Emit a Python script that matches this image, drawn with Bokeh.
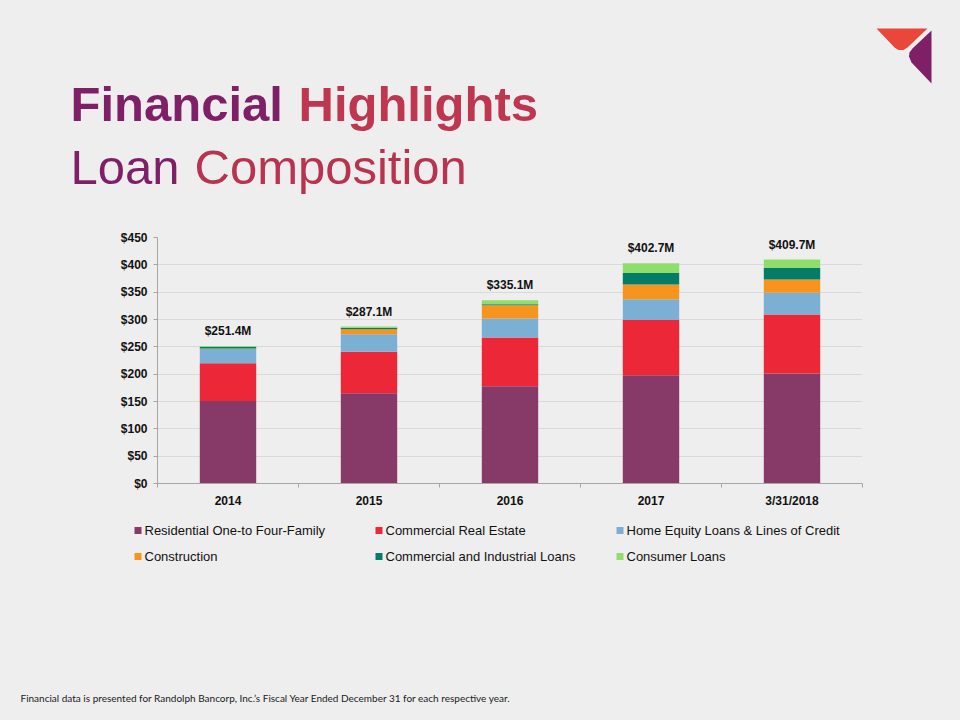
from bokeh.plotting import figure
from bokeh.models import (Range1d, FixedTicker, ColumnDataSource)
from bokeh.layouts import column, row
from bokeh.embed import file_html
from bokeh.resources import INLINE
from bokeh.core.properties import value

# ---------------- data ----------------
categories = ["2014", "2015", "2016", "2017", "3/31/2018"]
series_names = ["Residential One-to Four-Family", "Commercial Real Estate",
                "Home Equity Loans & Lines of Credit", "Construction",
                "Commercial and Industrial Loans", "Consumer Loans"]
residential = [151.0, 165.0, 178.0, 198.0, 201.0]
commercial_re = [69.0, 76.0, 89.0, 101.0, 108.0]
home_equity = [26.0, 32.0, 35.0, 38.0, 40.0]
construction = [1.0, 9.0, 24.0, 27.0, 24.0]
commercial_ind = [2.5, 3.0, 2.0, 21.0, 21.0]
consumer = [1.9, 2.1, 7.1, 17.7, 15.7]
totals = [251.4, 287.1, 335.1, 402.7, 409.7]
total_labels = ["$251.4M", "$287.1M", "$335.1M", "$402.7M", "$409.7M"]
y_ticks = [0, 50, 100, 150, 200, 250, 300, 350, 400, 450]
y_tick_labels = ["$0", "$50", "$100", "$150", "$200", "$250", "$300", "$350", "$400", "$450"]
series_colors = ["#873A67", "#EC2737", "#7BAFD4", "#F7941E", "#037D67", "#8FDD6B"]

BG = "#EEEEEE"
FONT = "Liberation Sans"
W = 960

# ---------------- header ----------------
hdr = figure(width=W, height=208, x_range=Range1d(0, W), y_range=Range1d(208, 0),
             x_axis_type=None, y_axis_type=None, toolbar_location=None,
             output_backend="svg", min_border=0, outline_line_color=None,
             background_fill_color=BG, border_fill_color=BG)
hdr.text(x=[70], y=[103], text=["Financial"], text_font=value(FONT), text_font_style="bold",
         text_font_size="49px", text_color="#7E1F67", text_baseline="alphabetic")
hdr.text(x=[298], y=[103], text=["Highlights"], text_font=value(FONT), text_font_style="bold",
         text_font_size="49px", text_color="#BE3650", text_baseline="alphabetic")
hdr.text(x=[70], y=[166], text=["Loan"], text_font=value(FONT),
         text_font_size="49px", text_color="#7E1F67", text_baseline="alphabetic")
hdr.text(x=[194], y=[166], text=["Composition"], text_font=value(FONT),
         text_font_size="49px", text_color="#B8334F", text_baseline="alphabetic")
# logo
hdr.patch(x=[876, 927, 907, 903, 898, 894], y=[28, 28, 47, 49.5, 49.5, 47],
          fill_color="#E8473A", line_color=None)
hdr.patch(x=[931, 931, 911, 908.5, 909, 912], y=[30, 83, 62, 56, 52, 48],
          fill_color="#7F1F66", line_color=None)

# ---------------- chart ----------------
xs = [i + 0.5 for i in range(len(categories))]
keys = ["residential", "commercial_re", "home_equity", "construction", "commercial_ind", "consumer"]
source = ColumnDataSource(dict(x=xs, residential=residential, commercial_re=commercial_re,
                               home_equity=home_equity, construction=construction,
                               commercial_ind=commercial_ind, consumer=consumer,
                               total=totals, label=total_labels))

p = figure(width=W, height=302, x_range=Range1d(0, len(categories)), y_range=Range1d(0, 450),
           toolbar_location=None, output_backend="svg",
           min_border_left=157, min_border_right=98, min_border_top=29, min_border_bottom=27,
           background_fill_color=BG, border_fill_color=BG, outline_line_color=None)

rs = p.vbar_stack(keys, x="x", width=0.4, fill_color=series_colors, line_color=None, source=source)

p.text(x="x", y="total", text="label", source=source, text_align="center",
       text_baseline="bottom", y_offset=-8, text_font=value(FONT), text_font_style="bold",
       text_font_size="12px", text_color="#111111")

p.xgrid.visible = False
p.ygrid.grid_line_color = "#D9D9D9"
p.ygrid.ticker = FixedTicker(ticks=y_ticks)

ya = p.yaxis[0]
ya.ticker = FixedTicker(ticks=y_ticks)
ya.major_label_overrides = {t: l for t, l in zip(y_ticks, y_tick_labels)}
ya.axis_line_color = "#A6A6A6"
ya.major_tick_line_color = "#A6A6A6"
ya.major_tick_out = 4
ya.major_tick_in = 0
ya.minor_tick_line_color = None
ya.major_label_standoff = 6
ya.major_label_text_font = FONT
ya.major_label_text_font_style = "bold"
ya.major_label_text_font_size = "12px"
ya.major_label_text_color = "#111111"

xa = p.xaxis[0]
xa.ticker = FixedTicker(ticks=xs, minor_ticks=list(range(len(categories) + 1)))
xa.major_label_overrides = {x: c for x, c in zip(xs, categories)}
xa.axis_line_color = "#A6A6A6"
xa.major_tick_line_color = None
xa.major_tick_out = 0
xa.major_tick_in = 0
xa.minor_tick_line_color = "#A6A6A6"
xa.minor_tick_out = 4
xa.minor_tick_in = 0
xa.major_label_standoff = 6
xa.major_label_text_font = FONT
xa.major_label_text_font_style = "bold"
xa.major_label_text_font_size = "12px"
xa.major_label_text_color = "#111111"

# ---------------- legend + footer ----------------
ftr = figure(width=W, height=210, x_range=Range1d(0, W), y_range=Range1d(720, 510),
             x_axis_type=None, y_axis_type=None, toolbar_location=None,
             output_backend="svg", min_border=0, outline_line_color=None,
             background_fill_color=BG, border_fill_color=BG)

# legend laid out as 3 columns x 2 rows, in the series order
LEG_LEFT, LEG_COL, LEG_TOP, LEG_ROW = 137.5, 241, 530, 26
n_cols = 3
leg_x = [LEG_LEFT + (i % n_cols) * LEG_COL for i in range(len(series_names))]
leg_y = [LEG_TOP + (i // n_cols) * LEG_ROW for i in range(len(series_names))]
leg_src = ColumnDataSource(dict(x=leg_x, y=leg_y, name=series_names, color=series_colors,
                                tx=[v + 6.5 for v in leg_x]))
ftr.rect(x="x", y="y", width=7, height=7, fill_color="color", line_color=None, source=leg_src)
ftr.text(x="tx", y="y", text="name", source=leg_src, text_font=value(FONT),
         text_font_size="13px", text_color="#111111", text_baseline="middle")

ftr.text(x=[20], y=[697], text=["Financial data is presented for Randolph Bancorp, Inc.\u2019s Fiscal Year Ended December 31 for each respective year."],
         text_font=value("Lato"), text_font_size="10px", text_color="#1A1A1A",
         text_baseline="middle")

layout = column(row(hdr, styles={"background-color": BG}), p, row(ftr, styles={"background-color": BG}),
                spacing=0, styles={"background-color": BG})
open("out.html", "w").write(file_html(layout, INLINE, title="Loan Composition"))
